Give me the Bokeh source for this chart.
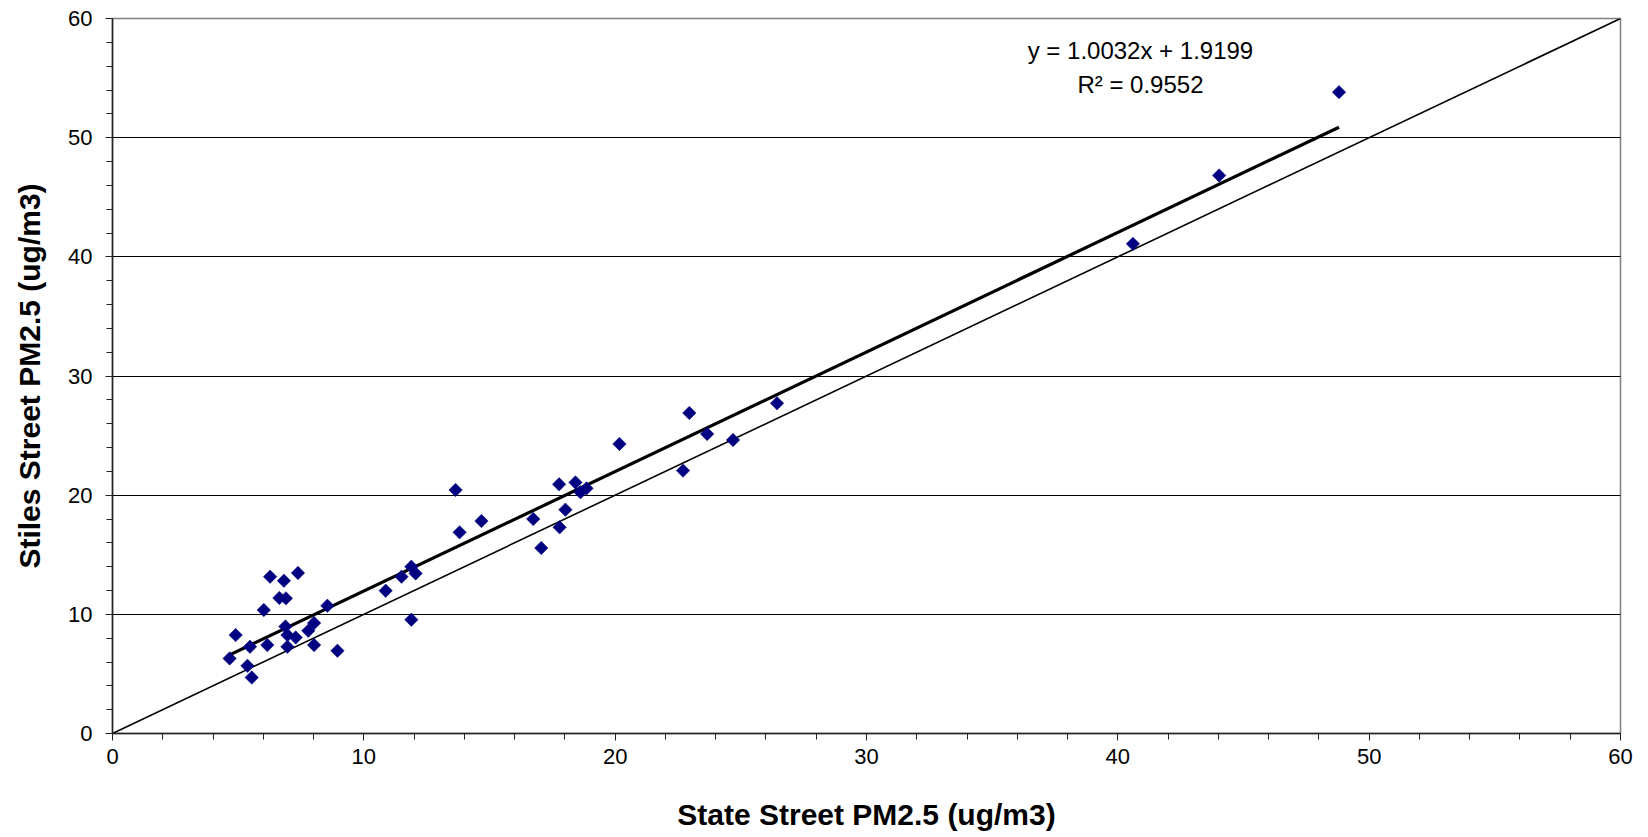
import numpy as np
from bokeh.plotting import figure
from bokeh.models import Range1d, SingleIntervalTicker, Label, ColumnDataSource
from bokeh.embed import file_html
from bokeh.resources import INLINE

# ---- data ----
state_pm25 = [4.66, 4.90, 5.47, 5.37, 5.54, 6.02, 6.16, 6.27, 6.64, 6.82,
              6.90, 7.38, 6.88, 6.96, 7.29, 6.96, 7.79, 8.02, 8.02, 8.55,
              8.95, 10.87, 11.50, 11.89, 12.06, 11.89, 13.65, 13.81, 14.68, 16.74,
              17.06, 17.77, 17.79, 18.02, 18.42, 18.62, 18.86, 20.17, 22.95, 23.66,
              22.70, 24.69, 26.44, 48.80, 44.03, 40.60]
stiles_pm25 = [6.30, 8.26, 7.28, 5.68, 4.70, 10.36, 7.42, 13.16, 11.37, 12.82,
               11.34, 13.47, 8.98, 8.26, 8.06, 7.28, 8.62, 9.27, 7.42, 10.72,
               6.94, 11.98, 13.16, 14.00, 13.43, 9.55, 20.44, 16.88, 17.83, 18.00,
               15.57, 20.91, 17.30, 18.78, 21.07, 20.24, 20.57, 24.30, 26.90, 25.14,
               22.06, 24.63, 27.71, 53.82, 46.83, 41.09]
trend_slope = 1.0032
trend_intercept = 1.9199
r_squared = 0.9552
axis_limits = [0, 60]
equation_text = "y = 1.0032x + 1.9199"
r2_text = "R\u00b2 = 0.9552"

FONT = "Liberation Sans"

p = figure(width=1640, height=835, output_backend="svg", toolbar_location=None,
           x_range=Range1d(axis_limits[0], axis_limits[1]),
           y_range=Range1d(axis_limits[0], axis_limits[1]),
           min_border_left=112, min_border_right=20,
           min_border_top=18, min_border_bottom=102,
           background_fill_color="white", border_fill_color="white")

p.outline_line_color = "#808080"
p.outline_line_width = 1.5

# axes
for ax in (p.xaxis[0], p.yaxis[0]):
    ax.ticker = SingleIntervalTicker(interval=10, num_minor_ticks=5)
    ax.axis_line_color = "#222222"
    ax.axis_line_width = 1.5
    ax.major_tick_line_color = "#222222"
    ax.minor_tick_line_color = "#222222"
    ax.major_tick_line_width = 1
    ax.minor_tick_line_width = 1
    ax.major_tick_in = 0
    ax.major_tick_out = 7
    ax.minor_tick_in = 0
    ax.minor_tick_out = 6
    ax.major_label_text_font = FONT
    ax.major_label_text_font_size = "22px"
    ax.major_label_text_color = "black"
    ax.axis_label_text_font = FONT
    ax.axis_label_text_font_size = "30px"
    ax.axis_label_text_font_style = "bold"
    ax.axis_label_text_color = "black"

p.xaxis.axis_label = "State Street PM2.5 (ug/m3)"
p.yaxis.axis_label = "Stiles Street PM2.5 (ug/m3)"
p.xaxis.major_label_standoff = 8
p.yaxis.major_label_standoff = 13
p.xaxis.axis_label_standoff = 31
p.yaxis.axis_label_standoff = 19

# grid
p.xgrid.grid_line_color = None
p.ygrid.ticker = SingleIntervalTicker(interval=10)
p.ygrid.grid_line_color = "black"
p.ygrid.grid_line_width = 1

# 1:1 line
p.line(x=axis_limits, y=axis_limits, line_color="black", line_width=1.6)

# trend line
tx = np.array([min(state_pm25), max(state_pm25)])
ty = trend_slope * tx + trend_intercept
p.line(x=tx, y=ty, line_color="black", line_width=3.2)

# points
src = ColumnDataSource(dict(x=state_pm25, y=stiles_pm25))
p.scatter("x", "y", source=src, marker="square", angle=np.pi / 4, size=9.5,
          fill_color="#000080", line_color="#000080", line_width=0.5)

# equation labels
p.add_layout(Label(x=40.9, y=57.3, text=equation_text, text_align="center",
                   text_baseline="middle", text_font=FONT, text_font_size="24px",
                   text_color="black"))
p.add_layout(Label(x=40.9, y=54.5, text=r2_text, text_align="center",
                   text_baseline="middle", text_font=FONT, text_font_size="24px",
                   text_color="black"))

open("out.html", "w").write(file_html(p, INLINE))
